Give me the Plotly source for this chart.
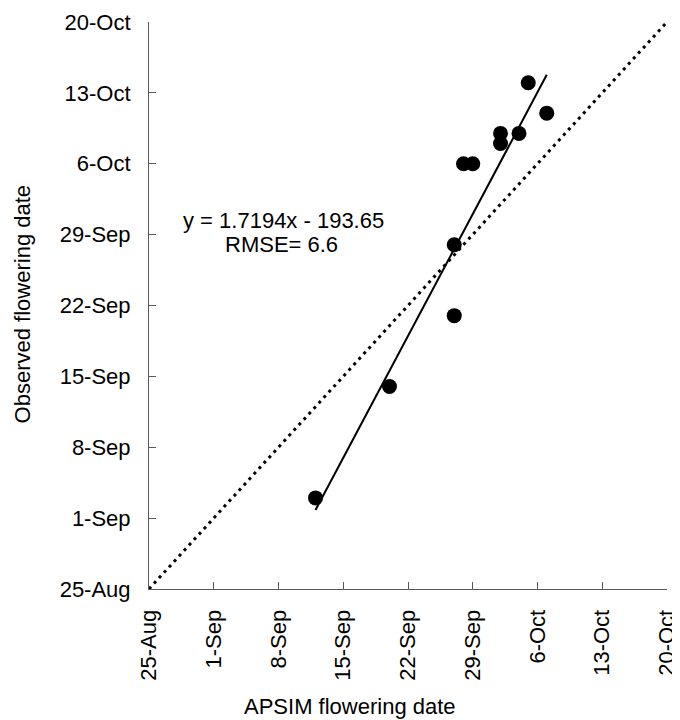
import plotly.graph_objects as go
import numpy as np

# Day-of-year values (non-leap year): APSIM simulated vs observed flowering
apsim_doy = [255, 263, 270, 270, 271, 272, 275, 275, 277, 278, 280]
observed_doy = [246, 257, 264, 271, 279, 279, 281, 282, 282, 287, 284]

tick_vals = [237, 244, 251, 258, 265, 272, 279, 286, 293]
tick_text = ["25-Aug", "1-Sep", "8-Sep", "15-Sep", "22-Sep", "29-Sep", "6-Oct", "13-Oct", "20-Oct"]

slope = 1.7194
intercept = -193.65
eq_text = "y = 1.7194x - 193.65"
rmse_text = "RMSE= 6.6"

FONT = "Liberation Sans, Arial, sans-serif"
AXIS_COL = "#595959"

fig = go.Figure()

# 1:1 line
fig.add_trace(go.Scatter(
    x=[tick_vals[0], tick_vals[-1]], y=[tick_vals[0], tick_vals[-1]],
    mode="lines", line=dict(color="black", width=3, dash="3px,4.4px"),
    showlegend=False, hoverinfo="skip"))

# regression line
xr = np.array([min(apsim_doy), max(apsim_doy)], dtype=float)
fig.add_trace(go.Scatter(
    x=xr, y=slope * xr + intercept,
    mode="lines", line=dict(color="black", width=2),
    showlegend=False, hoverinfo="skip"))

# observations
fig.add_trace(go.Scatter(
    x=apsim_doy, y=observed_doy, mode="markers",
    marker=dict(color="black", size=15),
    showlegend=False))

axis_common = dict(
    range=[tick_vals[0], tick_vals[-1]],
    tickmode="array", tickvals=tick_vals, ticktext=tick_text,
    showgrid=False, zeroline=False, automargin=False,
    showline=True, linecolor=AXIS_COL, linewidth=1,
    ticks="inside", ticklen=7, tickcolor=AXIS_COL, tickwidth=1,
    tickfont=dict(family=FONT, size=22, color="black"),
)

fig.update_xaxes(**axis_common, tickangle=-90, ticklabelstandoff=11)
fig.update_yaxes(**axis_common, ticklabelstandoff=13)

# page body has an 8px margin, so the figure is drawn 8px in from the window edge
fig.update_layout(
    template="none",
    width=672, height=712, autosize=False,
    margin=dict(l=141, r=13, t=14, b=131),
    plot_bgcolor="white", paper_bgcolor="white",
    font=dict(family=FONT, size=22, color="black"),
    annotations=[
        dict(text=eq_text, xref="paper", yref="paper",
             x=(283.5 - 149.3) / 518, y=(589.3 - 221) / 567,
             showarrow=False, xanchor="center", yanchor="middle",
             font=dict(family=FONT, size=22, color="black")),
        dict(text=rmse_text, xref="paper", yref="paper",
             x=(282 - 149.3) / 518, y=(589.3 - 245) / 567,
             showarrow=False, xanchor="center", yanchor="middle",
             font=dict(family=FONT, size=22, color="black")),
        dict(text="APSIM flowering date", xref="paper", yref="paper",
             x=(350 - 149.3) / 518, y=(589.3 - 707) / 567,
             showarrow=False, xanchor="center", yanchor="middle",
             font=dict(family=FONT, size=22, color="black")),
        dict(text="Observed flowering date", xref="paper", yref="paper",
             x=(23 - 149.3) / 518, y=(589.3 - 305) / 567,
             showarrow=False, xanchor="center", yanchor="middle", textangle=-90,
             font=dict(family=FONT, size=22, color="black")),
    ],
)

fig.write_html("out.html")
